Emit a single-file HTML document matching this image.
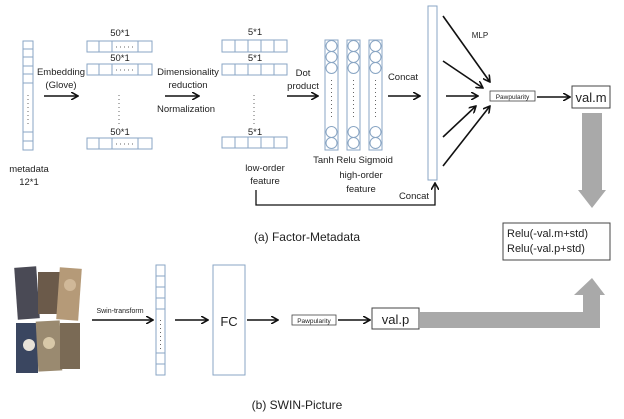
<!DOCTYPE html>
<html><head><meta charset="utf-8"><style>
html,body{margin:0;padding:0;background:#fff}
svg{display:block}
text{font-family:"Liberation Sans",sans-serif;fill:#222}
</style></head><body>
<svg width="624" height="419" viewBox="0 0 624 419" xmlns="http://www.w3.org/2000/svg">
<defs>
<marker id="a" markerWidth="8" markerHeight="8" refX="7" refY="4" orient="auto" markerUnits="userSpaceOnUse"><path d="M0,0 L7,4 L0,8" fill="none" stroke="#111" stroke-width="1.6"/></marker>
</defs>
<g fill="none" stroke="#8aa6c4" stroke-width="1">
<!-- metadata column -->
<rect x="23" y="41" width="10" height="109"/>
<line x1="23" y1="49" x2="33" y2="49"/><line x1="23" y1="57" x2="33" y2="57"/><line x1="23" y1="66" x2="33" y2="66"/><line x1="23" y1="74" x2="33" y2="74"/><line x1="23" y1="83" x2="33" y2="83"/><line x1="23" y1="132" x2="33" y2="132"/><line x1="23" y1="141" x2="33" y2="141"/>
<!-- 50*1 boxes -->
<rect x="87" y="41" width="65" height="11"/><line x1="99" y1="41" x2="99" y2="52"/><line x1="112" y1="41" x2="112" y2="52"/><line x1="138" y1="41" x2="138" y2="52"/>
<rect x="87" y="64" width="65" height="11"/><line x1="99" y1="64" x2="99" y2="75"/><line x1="112" y1="64" x2="112" y2="75"/><line x1="138" y1="64" x2="138" y2="75"/>
<rect x="87" y="138" width="65" height="11"/><line x1="99" y1="138" x2="99" y2="149"/><line x1="112" y1="138" x2="112" y2="149"/><line x1="138" y1="138" x2="138" y2="149"/>
<!-- 5*1 boxes -->
<rect x="222" y="40" width="65" height="12"/><line x1="235" y1="40" x2="235" y2="52"/><line x1="248" y1="40" x2="248" y2="52"/><line x1="261" y1="40" x2="261" y2="52"/><line x1="274" y1="40" x2="274" y2="52"/>
<rect x="222" y="64" width="65" height="11"/><line x1="235" y1="64" x2="235" y2="75"/><line x1="248" y1="64" x2="248" y2="75"/><line x1="261" y1="64" x2="261" y2="75"/><line x1="274" y1="64" x2="274" y2="75"/>
<rect x="222" y="137" width="65" height="11"/><line x1="235" y1="137" x2="235" y2="148"/><line x1="248" y1="137" x2="248" y2="148"/><line x1="261" y1="137" x2="261" y2="148"/><line x1="274" y1="137" x2="274" y2="148"/>
<!-- high-order columns -->
<rect x="325" y="40" width="13" height="110"/><rect x="347" y="40" width="13" height="110"/><rect x="369" y="40" width="13" height="110"/>
<circle cx="331.5" cy="46" r="5.5"/><circle cx="331.5" cy="57" r="5.5"/><circle cx="331.5" cy="68" r="5.5"/><circle cx="331.5" cy="132" r="5.5"/><circle cx="331.5" cy="143" r="5.5"/>
<circle cx="353.5" cy="46" r="5.5"/><circle cx="353.5" cy="57" r="5.5"/><circle cx="353.5" cy="68" r="5.5"/><circle cx="353.5" cy="132" r="5.5"/><circle cx="353.5" cy="143" r="5.5"/>
<circle cx="375.5" cy="46" r="5.5"/><circle cx="375.5" cy="57" r="5.5"/><circle cx="375.5" cy="68" r="5.5"/><circle cx="375.5" cy="132" r="5.5"/><circle cx="375.5" cy="143" r="5.5"/>
<!-- tall concat column -->
<rect x="428" y="6" width="9" height="174"/>
<!-- swin column -->
<rect x="156" y="265" width="9" height="110"/>
<line x1="156" y1="276" x2="165" y2="276"/><line x1="156" y1="287" x2="165" y2="287"/><line x1="156" y1="298" x2="165" y2="298"/><line x1="156" y1="309" x2="165" y2="309"/><line x1="156" y1="353" x2="165" y2="353"/><line x1="156" y1="364" x2="165" y2="364"/>
<rect x="213" y="265" width="32" height="110"/>
</g>
<!-- dots -->
<g stroke="#666" stroke-dasharray="1,3" stroke-width="1">
<line x1="28" y1="95" x2="28" y2="125"/><line x1="119" y1="95" x2="119" y2="125"/><line x1="254" y1="95" x2="254" y2="125"/>
<line x1="331.5" y1="80" x2="331.5" y2="118"/><line x1="353.5" y1="80" x2="353.5" y2="118"/><line x1="375.5" y1="80" x2="375.5" y2="118"/>
<line x1="160.5" y1="320" x2="160.5" y2="350"/>
<line x1="116" y1="47" x2="136" y2="47"/><line x1="116" y1="70" x2="136" y2="70"/><line x1="116" y1="144" x2="136" y2="144"/>
</g>
<!-- arrows -->
<g stroke="#111" stroke-width="1.6" marker-end="url(#a)">
<line x1="44" y1="96" x2="78" y2="96"/>
<line x1="165" y1="96" x2="199" y2="96"/>
<line x1="287" y1="96" x2="318" y2="96"/>
<line x1="388" y1="96" x2="420" y2="96"/>
<line x1="443" y1="16" x2="490" y2="82"/>
<line x1="443" y1="61" x2="483" y2="88"/>
<line x1="446" y1="96" x2="478" y2="96"/>
<line x1="443" y1="137" x2="476" y2="106"/>
<line x1="443" y1="166" x2="490" y2="106"/>
<line x1="537" y1="97" x2="570" y2="97"/>
<line x1="92" y1="320" x2="153" y2="320"/>
<line x1="175" y1="320" x2="208" y2="320"/>
<line x1="247" y1="320" x2="278" y2="320"/>
<line x1="338" y1="320" x2="370" y2="320"/>
</g>
<polyline points="256,190 256,205 435,205 435,183" fill="none" stroke="#111" stroke-width="1.3" marker-end="url(#a)"/>
<!-- boxes -->
<rect x="490" y="91" width="45" height="10" fill="#fff" stroke="#444" stroke-width="0.8"/>
<text x="512.5" y="99" font-size="6.5" text-anchor="middle">Pawpularity</text>
<rect x="572" y="86" width="38" height="22" fill="#fff" stroke="#444"/>
<text x="591" y="102" font-size="13" text-anchor="middle">val.m</text>
<rect x="292" y="315" width="44" height="10" fill="#fff" stroke="#444" stroke-width="0.8"/>
<text x="314" y="323" font-size="6.5" text-anchor="middle">Pawpularity</text>
<rect x="372" y="308" width="47" height="21" fill="#fff" stroke="#444"/>
<text x="395.5" y="324" font-size="13" text-anchor="middle">val.p</text>
<rect x="503" y="223" width="107" height="37" fill="#fff" stroke="#444"/>
<text x="507" y="237" font-size="11">Relu(-val.m+std)</text>
<text x="507" y="252" font-size="11">Relu(-val.p+std)</text>
<!-- gray arrows -->
<polygon points="582,113 602,113 602,190 606,190 592,208 578,190 582,190" fill="#a9a9a9"/>
<polygon points="420,312 583,312 583,295 574,295 592,278 605,295 600,295 600,328 420,328" fill="#a9a9a9"/>
<!-- photos -->
<g>
<rect x="16" y="267" width="22" height="52" fill="#4a4a55" transform="rotate(-4 27 293)"/>
<rect x="38" y="272" width="26" height="42" fill="#6b5a4a"/>
<rect x="58" y="268" width="22" height="52" fill="#b59a78" transform="rotate(4 69 294)"/>
<rect x="16" y="323" width="22" height="50" fill="#3a4660"/>
<rect x="37" y="321" width="24" height="50" fill="#9a8a70" transform="rotate(-3 49 346)"/>
<rect x="60" y="323" width="20" height="46" fill="#7a6a55"/>
<circle cx="29" cy="345" r="6" fill="#e8e2d8"/><circle cx="49" cy="343" r="6" fill="#d8c8a8"/><circle cx="70" cy="285" r="6" fill="#d0b898"/>
</g>
<!-- text -->
<g font-size="9.5">
<text x="61" y="75" text-anchor="middle">Embedding</text>
<text x="61" y="88" text-anchor="middle">(Glove)</text>
<text x="29" y="172" text-anchor="middle">metadata</text>
<text x="29" y="185" text-anchor="middle">12*1</text>
<text x="120" y="36" text-anchor="middle">50*1</text>
<text x="120" y="61" text-anchor="middle">50*1</text>
<text x="120" y="135" text-anchor="middle">50*1</text>
<text x="188" y="75" text-anchor="middle">Dimensionality</text>
<text x="188" y="88" text-anchor="middle">reduction</text>
<text x="186" y="112" text-anchor="middle">Normalization</text>
<text x="255" y="35" text-anchor="middle">5*1</text>
<text x="255" y="61" text-anchor="middle">5*1</text>
<text x="255" y="135" text-anchor="middle">5*1</text>
<text x="265" y="171" text-anchor="middle">low-order</text>
<text x="265" y="184" text-anchor="middle">feature</text>
<text x="303" y="76" text-anchor="middle">Dot</text>
<text x="303" y="89" text-anchor="middle">product</text>
<text x="353" y="163" text-anchor="middle">Tanh Relu Sigmoid</text>
<text x="361" y="178" text-anchor="middle">high-order</text>
<text x="361" y="192" text-anchor="middle">feature</text>
<text x="403" y="80" text-anchor="middle">Concat</text>
<text x="414" y="199" text-anchor="middle">Concat</text>
<text x="480" y="38" text-anchor="middle" font-size="8">MLP</text>
<text x="120" y="313" text-anchor="middle" font-size="7">Swin-transform</text>
</g>
<text x="229" y="326" font-size="13" text-anchor="middle">FC</text>
<text x="307" y="241" font-size="12" text-anchor="middle">(a) Factor-Metadata</text>
<text x="297" y="409" font-size="12" text-anchor="middle">(b) SWIN-Picture</text>
</svg>
</body></html>
